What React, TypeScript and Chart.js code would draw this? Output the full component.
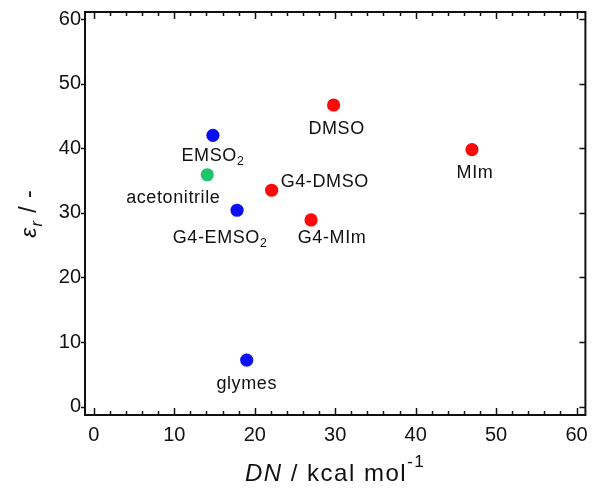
import React, { useEffect, useRef } from "react";
import { Chart, registerables } from "chart.js";

Chart.register(...registerables);

// ---- data ----
const solventNames = ["glymes", "G4-EMSO_{2}", "acetonitrile", "EMSO_{2}", "G4-DMSO", "G4-MIm", "DMSO", "MIm"];
const donorNumber = [19.0, 17.8, 14.1, 14.8, 22.1, 27.0, 29.8, 47.0];
const permittivity = [7.2, 30.4, 35.9, 42.0, 33.5, 28.9, 46.7, 39.8];
const solventGroup = ["ether", "ether", "nitrile", "ether", "solvate", "solvate", "solvate", "solvate"];
const xTickValues = [0, 10, 20, 30, 40, 50, 60];
const yTickValues = [0, 10, 20, 30, 40, 50, 60];

const groupColors: Record<string, string> = {
  ether: "#0a10f2",
  nitrile: "#1fc56c",
  solvate: "#fb0a0a",
};

// label offsets relative to point (style / layout)
const labelLayout: Record<string, { dx: number; dy: number; align: "center" | "left" }> = {
  glymes: { dx: 0, dy: 22, align: "center" },
  "G4-EMSO_{2}": { dx: -17, dy: 26, align: "center" },
  acetonitrile: { dx: -34, dy: 22, align: "center" },
  "EMSO_{2}": { dx: 0, dy: 19, align: "center" },
  "G4-DMSO": { dx: 9, dy: -10, align: "left" },
  "G4-MIm": { dx: 21, dy: 17, align: "center" },
  DMSO: { dx: 3, dy: 22, align: "center" },
  MIm: { dx: 3, dy: 22, align: "center" },
};

const FAMILY = '"Liberation Sans", Arial, Helvetica, sans-serif';

type Seg = { text: string; italic?: boolean; sub?: boolean; sup?: boolean };

function parseRich(s: string): Seg[] {
  const segs: Seg[] = [];
  const re = /_\{([^}]*)\}|\^\{([^}]*)\}|\*([^*]*)\*|([^_^*]+)/g;
  let m: RegExpExecArray | null;
  while ((m = re.exec(s))) {
    if (m[1] !== undefined) segs.push({ text: m[1], sub: true });
    else if (m[2] !== undefined) segs.push({ text: m[2], sup: true });
    else if (m[3] !== undefined) segs.push({ text: m[3], italic: true });
    else segs.push({ text: m[4] });
  }
  return segs;
}

function drawRich(
  ctx: CanvasRenderingContext2D,
  segs: Seg[],
  x: number,
  y: number,
  size: number,
  align: "center" | "left",
  opts: { subDy?: number; supDy?: number; scale?: number; spacing?: number } = {}
) {
  const scale = opts.scale ?? 0.68;
  const subDy = opts.subDy ?? 0.22;
  const supDy = opts.supDy ?? 0.5;
  const spacing = opts.spacing ?? 0;
  const c: any = ctx;
  const fontOf = (s: Seg) =>
    `${s.italic ? "italic " : ""}${s.sub || s.sup ? size * scale : size}px ${FAMILY}`;
  let total = 0;
  const widths = segs.map((s) => {
    ctx.font = fontOf(s);
    const w = ctx.measureText(s.text).width + spacing * s.text.length;
    total += w;
    return w;
  });
  let cx = align === "center" ? x - total / 2 : x;
  ctx.textAlign = "left";
  ctx.textBaseline = "alphabetic";
  segs.forEach((s, i) => {
    ctx.font = fontOf(s);
    let dy = 0;
    if (s.sub) dy = size * subDy;
    if (s.sup) dy = -size * supDy;
    if (spacing) {
      let px = cx;
      for (const ch of s.text) {
        ctx.fillText(ch, px, y + dy);
        px += ctx.measureText(ch).width + spacing;
      }
    } else {
      ctx.fillText(s.text, cx, y + dy);
    }
    cx += widths[i];
  });
  void c;
}

const framePlugin = {
  id: "framePlugin",
  afterDraw(chart: any) {
    const { ctx, chartArea, scales } = chart;
    const { left, right, top, bottom } = chartArea;
    const xs = scales.x;
    const ys = scales.y;
    ctx.save();
    ctx.strokeStyle = "#111";
    ctx.lineWidth = 2;
    ctx.strokeRect(left, top, right - left, bottom - top);

    ctx.lineWidth = 1.5;
    const line = (x1: number, y1: number, x2: number, y2: number) => {
      ctx.beginPath();
      ctx.moveTo(x1, y1);
      ctx.lineTo(x2, y2);
      ctx.stroke();
    };
    // x minor/major inward ticks on top and bottom
    const xMin = xTickValues[0];
    const xMax = xTickValues[xTickValues.length - 1];
    for (let v = xMin; v <= xMax + 1e-9; v += 2) {
      const px = Math.round(xs.getPixelForValue(v)) + 0.5;
      const major = xTickValues.includes(v);
      const len = major ? 7 : 4;
      line(px, bottom, px, bottom - len);
      line(px, top, px, top + len);
    }
    // y ticks: outward on left, inward on right
    for (const v of yTickValues) {
      const py = Math.round(ys.getPixelForValue(v)) + 0.5;
      line(left, py, left - 4, py);
      line(right, py, right - 6, py);
    }

    // point labels
    ctx.fillStyle = "#111";
    const meta = chart.getDatasetMeta(0);
    solventNames.forEach((name, i) => {
      const el = meta.data[i];
      const lay = labelLayout[name] || { dx: 0, dy: 22, align: "center" };
      drawRich(ctx, parseRich(name), el.x + lay.dx, el.y + lay.dy + 6.5, 18, lay.align, {
        spacing: 0.6,
      });
    });

    // x title
    drawRich(ctx, parseRich("*DN* / kcal mol^{-1}"), (left + right) / 2, 481, 24, "center", {
      supDy: 0.6,
      scale: 0.72,
      spacing: 1.5,
    });

    // y title (rotated)
    ctx.save();
    ctx.translate(36, (top + bottom) / 2);
    ctx.rotate(-Math.PI / 2);
    drawRich(
      ctx,
      [
        { text: "ε", italic: true },
        { text: "r", italic: true, sub: true },
        { text: " / -" },
      ],
      0,
      0,
      23,
      "center",
      { subDy: 0.25, scale: 0.72, spacing: 1 }
    );
    ctx.restore();
    ctx.restore();
  },
};

export default function App() {
  const canvasRef = useRef<HTMLCanvasElement | null>(null);

  useEffect(() => {
    const canvas = canvasRef.current;
    if (!canvas) return;
    const tickFont = { family: FAMILY, size: 20 };
    const chart = new Chart(canvas, {
      type: "scatter",
      data: {
        datasets: [
          {
            data: donorNumber.map((d, i) => ({ x: d, y: permittivity[i] })),
            backgroundColor: solventGroup.map((g) => groupColors[g]),
            pointBackgroundColor: solventGroup.map((g) => groupColors[g]),
            pointRadius: 6.6,
            pointBorderWidth: 0,
            borderWidth: 0,
          },
        ],
      },
      options: {
        animation: false,
        responsive: true,
        maintainAspectRatio: false,
        layout: { padding: { top: 12, right: 5, left: 0, bottom: 0 } },
        plugins: {
          legend: { display: false },
          tooltip: { enabled: false },
        },
        scales: {
          x: {
            type: "linear",
            min: -1.1,
            max: 61.1,
            afterFit: (s: any) => {
              s.height = 75;
              s.paddingLeft = 0;
              s.paddingRight = 0;
            },
            afterBuildTicks: (s: any) => {
              s.ticks = xTickValues.map((v) => ({ value: v }));
            },
            grid: { display: false, drawTicks: false },
            border: { display: false },
            ticks: {
              padding: 8,
              font: tickFont,
              color: "#111",
              autoSkip: false,
              maxRotation: 0,
            },
          },
          y: {
            type: "linear",
            min: -1.3,
            max: 61.1,
            afterFit: (s: any) => {
              s.width = 85;
              s.paddingTop = 0;
              s.paddingBottom = 0;
            },
            afterBuildTicks: (s: any) => {
              s.ticks = yTickValues.map((v) => ({ value: v }));
            },
            grid: { display: false, drawTicks: false },
            border: { display: false },
            ticks: {
              padding: 4,
              font: tickFont,
              color: "#111",
              autoSkip: false,
            },
          },
        },
      },
      plugins: [framePlugin],
    } as any);
    return () => chart.destroy();
  }, []);

  return (
    <div style={{ position: "absolute", left: 0, top: 0, width: 592, height: 490, background: "#fff" }}>
      <canvas ref={canvasRef} />
    </div>
  );
}
